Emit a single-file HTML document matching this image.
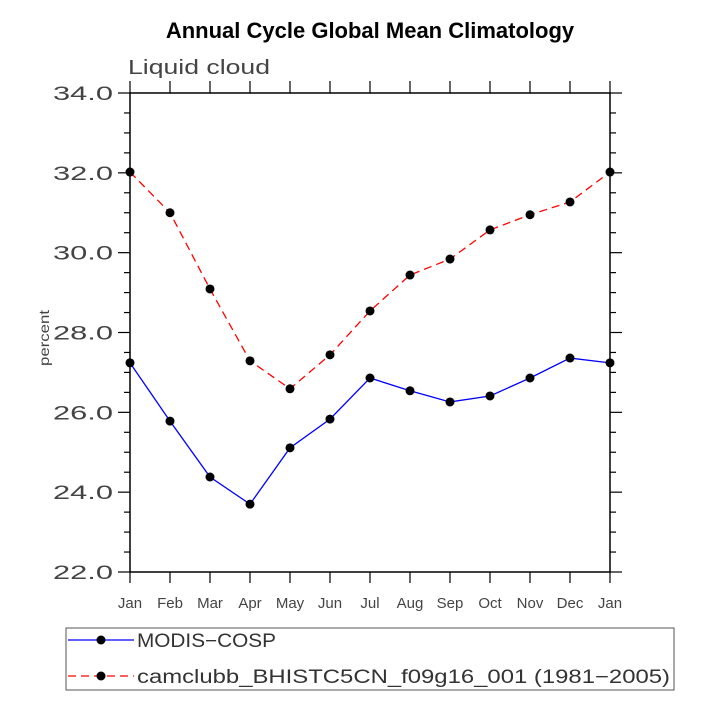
<!DOCTYPE html>
<html><head><meta charset="utf-8"><style>
body{margin:0;background:#fff}
text{font-family:"Liberation Sans",sans-serif}
</style></head><body>
<svg id="c" width="710" height="710" xmlns="http://www.w3.org/2000/svg">
<text x="370" y="38" text-anchor="middle" font-size="22" font-weight="bold">Annual Cycle Global Mean Climatology</text>
<text x="128" y="74" font-size="20" fill="#444" textLength="142" lengthAdjust="spacingAndGlyphs">Liquid cloud</text>
<text transform="translate(49,338) rotate(-90)" text-anchor="middle" font-size="14" fill="#444" textLength="56" lengthAdjust="spacingAndGlyphs">percent</text>
<g id="ax"></g>
<rect x="66" y="628" width="608" height="62" fill="none" stroke="#555" stroke-width="1"/>
<line x1="68" y1="640" x2="134" y2="640" stroke="#0000ff" stroke-width="1.3"/>
<circle cx="101" cy="640" r="4.5"/>
<text x="137" y="647" font-size="19" fill="#333" textLength="139" lengthAdjust="spacingAndGlyphs">MODIS−COSP</text>
<line x1="68" y1="676" x2="134" y2="676" stroke="#ff0000" stroke-width="1.3" stroke-dasharray="8,5"/>
<circle cx="101" cy="676" r="4.5"/>
<text x="137" y="683" font-size="19" fill="#333" textLength="533" lengthAdjust="spacingAndGlyphs">camclubb_BHISTC5CN_f09g16_001 (1981−2005)</text>
</svg>
<script>
const months=["Jan","Feb","Mar","Apr","May","Jun","Jul","Aug","Sep","Oct","Nov","Dec","Jan"];
const modis=[27.24,25.78,24.38,23.70,25.11,25.83,26.86,26.54,26.26,26.41,26.86,27.36,27.24];
const cam=[32.02,31.0,29.09,27.29,26.59,27.44,28.54,29.44,29.84,30.57,30.95,31.27,32.02];
const yTicks=["22.0","24.0","26.0","28.0","30.0","32.0","34.0"];
const X0=130,X1=610,Y0=572,Y1=93,ymin=22,ymax=34;
const xs=i=>X0+(X1-X0)*i/(months.length-1);
const ys=v=>Y0-(Y0-Y1)*(v-ymin)/(ymax-ymin);
const NS="http://www.w3.org/2000/svg";
const g=document.getElementById('ax');
function mk(t,a){const e=document.createElementNS(NS,t);for(const k in a)e.setAttribute(k,a[k]);g.appendChild(e);return e;}
let e=mk('rect',{x:X0,y:Y1,width:X1-X0,height:Y0-Y1,fill:'none',stroke:'#000','stroke-width':1.5});


for(let v=ymin;v<=ymax+0.001;v+=0.5){
 const y=ys(v);const maj=Math.abs(v/2-Math.round(v/2))<0.01;const L=maj?12:6;
 e=mk('line',{x1:X0-L,x2:X0,y1:y,y2:y,stroke:'#000','stroke-width':1.2});
 
 
 e=mk('line',{x1:X1,x2:X1+L,y1:y,y2:y,stroke:'#000','stroke-width':1.2});
 
 
}
yTicks.forEach(t=>{e=mk('text',{x:X0-17,y:ys(parseFloat(t))+7,'text-anchor':'end','font-size':19,fill:'#444',textLength:60,lengthAdjust:'spacingAndGlyphs'});e.textContent=t;
 
 });
months.forEach((m,i)=>{const x=xs(i);
 e=mk('line',{x1:x,x2:x,y1:Y0,y2:Y0+11,stroke:'#000','stroke-width':1.2});
 
 
 e=mk('line',{x1:x,x2:x,y1:Y1-12,y2:Y1,stroke:'#000','stroke-width':1.2});
 
 
 e=mk('text',{x:x,y:Y0+36,'text-anchor':'middle','font-size':15,fill:'#444'});e.textContent=m;
 
 });
function series(d,col,dash,name){
 e=mk('polyline',{points:d.map((v,i)=>xs(i)+','+ys(v)).join(' '),fill:'none',stroke:col,'stroke-width':1.3,'stroke-dasharray':dash});
 
 
 d.forEach((v,i)=>{e=mk('circle',{cx:xs(i),cy:ys(v),r:4.5,fill:'#000'});
  
  });
}
series(cam,'#ff0000','8,5','cam');
series(modis,'#0000ff','none','modis');
</script>
</body></html>
